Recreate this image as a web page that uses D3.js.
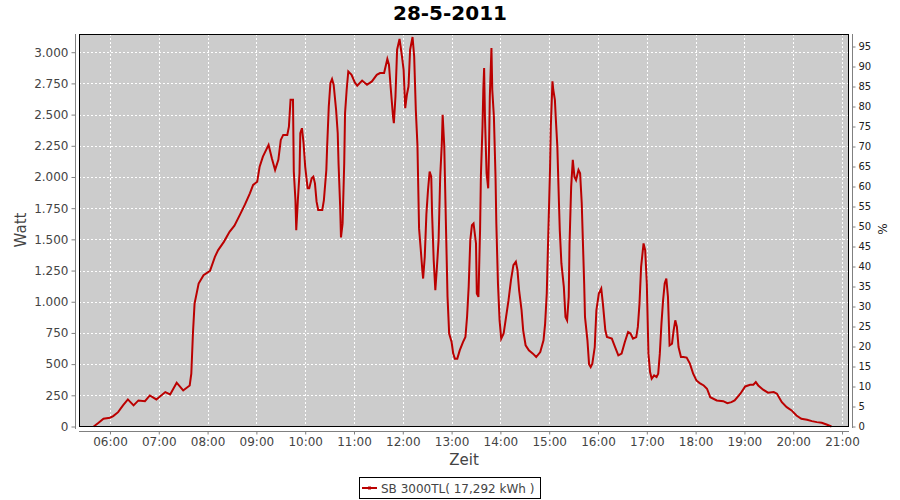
<!DOCTYPE html>
<html>
<head>
<meta charset="utf-8">
<script src="https://cdn.jsdelivr.net/npm/d3@7"></script>
<style>
  html, body { margin: 0; padding: 0; background: #fff; }
  svg { display: block; font-family: "DejaVu Sans", sans-serif; }
</style>
</head>
<body>
<svg id="chart" width="900" height="500"></svg>
<script>
const title = "28-5-2011";
const seriesName = "SB 3000TL( 17,292 kWh )";
const yTicks = [0,250,500,750,1000,1250,1500,1750,2000,2250,2500,2750,3000];
const pctTicks = [0,5,10,15,20,25,30,35,40,45,50,55,60,65,70,75,80,85,90,95];
const hourTicks = ["06:00","07:00","08:00","09:00","10:00","11:00","12:00","13:00","14:00","15:00","16:00","17:00","18:00","19:00","20:00","21:00"];
const times = ["05:40","05:46","05:52","06:00","06:04","06:10","06:16","06:22","06:29","06:35","06:43","06:49","06:57","07:08","07:14","07:22","07:30","07:38","07:40","07:42","07:44","07:49","07:55","08:03","08:09","08:13","08:20","08:27","08:33","08:40","08:46","08:52","08:56","09:01","09:04","09:08","09:15","09:19","09:23","09:27","09:30","09:33","09:38","09:40","09:42","09:45","09:46","09:48","09:49","09:51","09:53","09:54","09:56","09:58","10:00","10:03","10:05","10:08","10:10","10:12","10:14","10:16","10:21","10:23","10:26","10:27","10:29","10:31","10:33","10:35","10:38","10:40","10:41","10:43","10:44","10:46","10:48","10:49","10:51","10:53","10:57","11:01","11:04","11:10","11:16","11:22","11:28","11:32","11:37","11:41","11:43","11:45","11:48","11:49","11:51","11:53","11:56","11:59","12:01","12:03","12:05","12:07","12:09","12:12","12:14","12:16","12:18","12:20","12:22","12:24","12:25","12:27","12:29","12:31","12:33","12:35","12:36","12:38","12:40","12:42","12:44","12:46","12:48","12:49","12:51","12:53","12:55","12:57","13:00","13:02","13:04","13:07","13:10","13:14","13:17","13:19","13:21","13:23","13:25","13:27","13:30","13:31","13:33","13:35","13:36","13:38","13:39","13:40","13:41","13:43","13:45","13:46","13:47","13:49","13:50","13:52","13:54","13:55","13:57","13:59","14:01","14:04","14:07","14:10","14:13","14:16","14:19","14:21","14:23","14:26","14:28","14:31","14:35","14:40","14:44","14:49","14:53","14:55","14:57","14:59","15:01","15:02","15:04","15:05","15:07","15:08","15:10","15:12","15:13","15:15","15:18","15:20","15:22","15:24","15:25","15:27","15:29","15:31","15:33","15:36","15:38","15:40","15:41","15:43","15:44","15:47","15:49","15:51","15:53","15:56","15:58","16:01","16:04","16:06","16:09","16:11","16:17","16:21","16:25","16:29","16:33","16:37","16:40","16:43","16:47","16:49","16:51","16:53","16:56","16:58","17:00","17:02","17:04","17:06","17:09","17:12","17:14","17:16","17:18","17:20","17:22","17:24","17:26","17:28","17:31","17:33","17:35","17:37","17:39","17:42","17:45","17:49","17:53","17:57","18:01","18:05","18:10","18:14","18:18","18:26","18:34","18:39","18:44","18:48","18:55","19:01","19:07","19:11","19:14","19:17","19:23","19:29","19:36","19:40","19:46","19:52","19:58","20:04","20:10","20:17","20:23","20:29","20:35","20:41","20:47"];
const watts = [0,30,62,70,83,115,169,217,169,209,203,249,217,276,257,351,289,329,423,745,985,1146,1213,1247,1360,1414,1480,1560,1610,1700,1780,1869,1936,1962,2083,2163,2257,2150,2056,2137,2297,2337,2337,2404,2618,2618,2043,1815,1574,1815,2030,2351,2391,2271,2083,1909,1909,1990,2003,1949,1802,1735,1735,1815,2056,2243,2565,2752,2785,2739,2538,2351,2110,1761,1515,1628,2110,2511,2699,2846,2819,2758,2731,2773,2739,2766,2819,2833,2833,2945,2900,2725,2484,2431,2645,3020,3106,2966,2859,2552,2659,2725,3020,3122,2966,2538,2257,1588,1427,1253,1186,1360,1700,1896,2043,2003,1708,1333,1092,1280,1494,2003,2271,2498,2243,1628,1039,745,677,584,544,544,610,677,717,878,1119,1494,1614,1628,1467,1066,1039,1574,2003,2404,2699,2873,2484,2030,1909,2217,2645,3034,2699,2484,2003,1628,1146,851,704,745,878,1012,1173,1293,1320,1253,1092,932,771,651,610,584,557,597,691,825,1066,1574,2056,2404,2766,2699,2618,2484,2243,1789,1574,1307,1119,878,851,1039,1467,1922,2137,2003,1976,2056,2030,1789,1574,1146,878,691,500,476,504,637,932,1066,1106,985,771,717,704,637,570,584,677,757,745,704,717,798,985,1280,1467,1414,1146,584,436,383,410,396,423,584,825,1012,1146,1186,1039,650,664,771,851,798,637,557,557,552,504,423,369,348,329,303,235,209,203,187,195,209,263,321,335,335,356,329,295,271,276,263,195,155,129,88,62,54,43,35,30,16,0];

const parseT = d3.timeParse("%Y-%m-%d %H:%M:%S");
const day = "2011-05-28 ";
const data = times.map((t, i) => ({ t: parseT(day + t + ":00"), v: watts[i] }));

const svg = d3.select("#chart");
svg.append("rect").attr("width", 900).attr("height", 500).attr("fill", "#fff");

const L = 79, R = 849, T = 34, B = 427;
const x = d3.scaleTime()
  .domain([parseT(day + "05:21:55"), parseT(day + "21:08:35")])
  .range([L, R]);
const y = d3.scaleLinear().domain([0, 3150]).range([426.5, 33.5]);
const yPct = d3.scaleLinear().domain([0, 98.25]).range([426.5, 33.5]);

const de = d3.formatLocale({ decimal: ",", thousands: ".", grouping: [3], currency: ["", "€"] });
const fmtW = de.format(",.0f");
const hourDates = hourTicks.map(h => parseT(day + h + ":00"));

// plot background
svg.append("rect").attr("x", L).attr("y", T).attr("width", R - L).attr("height", B - T)
  .attr("fill", "#cccccc");

// grid
const grid = svg.append("g").attr("stroke", "#ffffff").attr("stroke-width", 1)
  .attr("stroke-dasharray", "2,2").attr("shape-rendering", "crispEdges");
grid.selectAll("line.v").data(hourDates).join("line")
  .attr("x1", d => Math.round(x(d)) + 0.5).attr("x2", d => Math.round(x(d)) + 0.5)
  .attr("y1", T).attr("y2", B);
grid.selectAll("line.h").data(yTicks.filter(d => d > 0)).join("line")
  .attr("y1", d => Math.round(y(d)) + 0.5).attr("y2", d => Math.round(y(d)) + 0.5)
  .attr("x1", L).attr("x2", R);

// line
const line = d3.line().x(d => x(d.t)).y(d => y(d.v));
svg.append("path").datum(data).attr("d", line)
  .attr("fill", "none").attr("stroke", "#bb0000").attr("stroke-width", 2)
  .attr("stroke-linejoin", "miter");

// plot border
svg.append("rect").attr("x", L + 0.5).attr("y", T + 0.5).attr("width", R - L - 1).attr("height", B - T - 1)
  .attr("fill", "none").attr("stroke", "#000").attr("stroke-width", 1);

// left axis
const yAxis = d3.axisLeft(y).tickValues(yTicks).tickFormat(fmtW).tickSize(4).tickPadding(3);
const gy = svg.append("g").attr("transform", "translate(75.5,0)").call(yAxis);
gy.select(".domain").attr("d", `M0,${T}V${B + 2}`).attr("stroke", "#808080");
gy.selectAll(".tick line").attr("stroke", "#808080");
gy.selectAll(".tick text").attr("fill", "#444").style("font-size", "12px")
  .style("font-family", "DejaVu Sans, sans-serif");

// bottom axis
const xAxis = d3.axisBottom(x).tickValues(hourDates).tickFormat(d3.timeFormat("%H:%M")).tickSize(3).tickPadding(3);
const gx = svg.append("g").attr("transform", "translate(0,431.5)").call(xAxis);
gx.select(".domain").attr("d", `M${L},0H${R}`).attr("stroke", "#808080");
gx.selectAll(".tick line").attr("stroke", "#808080");
gx.selectAll(".tick text").attr("fill", "#444").style("font-size", "12px")
  .style("font-family", "DejaVu Sans, sans-serif");

// right axis (%)
const rAxis = d3.axisRight(yPct).tickValues(pctTicks).tickFormat(d3.format("d")).tickSize(3).tickPadding(3);
const gr = svg.append("g").attr("transform", "translate(852.5,0)").call(rAxis);
gr.select(".domain").attr("d", `M0,${T}V${B + 1}`).attr("stroke", "#808080");
gr.selectAll(".tick line").attr("stroke", "#808080");
gr.selectAll(".tick text").attr("fill", "#222").style("font-size", "10px")
  .style("font-family", "DejaVu Sans, sans-serif");

// title
svg.append("text").attr("x", 450).attr("y", 20).attr("text-anchor", "middle")
  .style("font-size", "20px").style("font-weight", "bold").attr("fill", "#000").text(title);

// axis labels
svg.append("text").attr("transform", "translate(26,230) rotate(-90)").attr("text-anchor", "middle")
  .style("font-size", "15px").attr("fill", "#444").text("Watt");
svg.append("text").attr("x", 464).attr("y", 465).attr("text-anchor", "middle")
  .style("font-size", "15px").attr("fill", "#444").text("Zeit");
svg.append("text").attr("transform", "translate(887,229) rotate(-90)").attr("text-anchor", "middle")
  .style("font-size", "12px").attr("fill", "#222").text("%");

// legend
const lg = svg.append("g");
lg.append("rect").attr("x", 359.5).attr("y", 477.5).attr("width", 181).attr("height", 21)
  .attr("fill", "#fff").attr("stroke", "#000").attr("stroke-width", 1);
lg.append("line").attr("x1", 362).attr("x2", 377).attr("y1", 488).attr("y2", 488)
  .attr("stroke", "#bb0000").attr("stroke-width", 2);
lg.append("rect").attr("x", 368).attr("y", 486.5).attr("width", 3).attr("height", 3).attr("fill", "#bb0000");
lg.append("text").attr("x", 381).attr("y", 492.5).style("font-size", "12px").attr("fill", "#444")
  .text(seriesName);
</script>
</body>
</html>
